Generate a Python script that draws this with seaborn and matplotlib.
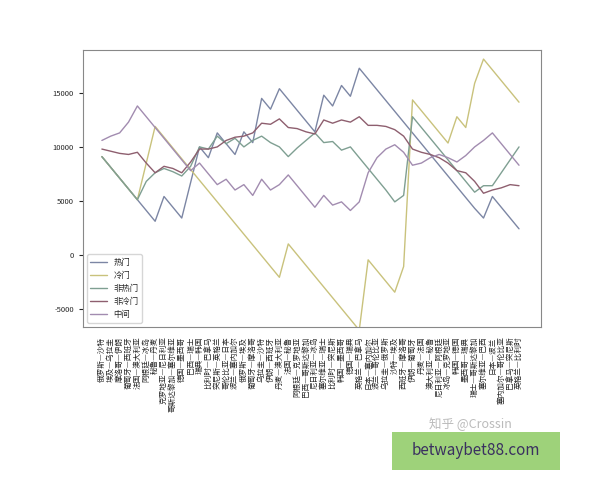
import matplotlib
matplotlib.use("Agg")
import matplotlib.pyplot as plt
import seaborn as sns
import pandas as pd

sns.set_style("white")
plt.rcParams['font.family'] = ['Noto Sans CJK SC', 'DejaVu Sans']
plt.rcParams['axes.unicode_minus'] = False

matches = ["俄罗斯—沙特","埃及—乌拉圭","摩洛哥—伊朗","葡萄牙—西班牙","法国—澳大利亚","阿根廷—冰岛",
 "秘鲁—丹麦","克罗地亚—尼日利亚","哥斯达黎加—塞尔维亚","德国—墨西哥","巴西—瑞士","瑞典—韩国",
 "比利时—巴拿马","突尼斯—英格兰","哥伦比亚—日本","波兰—塞内加尔","俄罗斯—埃及","葡萄牙—摩洛哥",
 "乌拉圭—沙特","伊朗—西班牙","丹麦—澳大利亚","法国—秘鲁","阿根廷—克罗地亚","巴西—哥斯达黎加",
 "尼日利亚—冰岛","塞尔维亚—瑞士","比利时—突尼斯","韩国—墨西哥","德国—瑞典","英格兰—巴拿马",
 "日本—塞内加尔","波兰—哥伦比亚","乌拉圭—俄罗斯","沙特—埃及","西班牙—摩洛哥","伊朗—葡萄牙",
 "丹麦—法国","澳大利亚—秘鲁","尼日利亚—阿根廷","冰岛—克罗地亚","韩国—德国","墨西哥—瑞典",
 "瑞士—哥斯达黎加","塞尔维亚—巴西","日本—波兰","塞内加尔—哥伦比亚","巴拿马—突尼斯","英格兰—比利时"]

hot = [9100,8100,7100,6100,5100,4100,3100,5400,4400,3400,6700,10000,9000,11300,10300,9300,
       11400,10400,14500,13500,15400,14400,13400,12400,11400,14800,13800,15700,14700,17300,16300,15300,
       14300,13300,12300,11300,10300,9300,8300,7300,6300,5300,4300,3400,5400,4400,3400,2400]
cold = [9100,8100,7100,6100,5100,8500,11900,10900,9900,8900,7900,6900,5900,4900,3900,2900,
        1900,900,-100,-1100,-2100,1000,0,-1000,-2000,-3000,-4000,-5000,-6000,-7000,-480,-1480,
        -2480,-3480,-1100,14360,13360,12360,11360,10360,12800,11800,15900,18150,17150,16150,15150,14150]
nonhot = [9100,8100,7100,6100,5100,6800,7600,8000,7700,7300,8200,10000,9800,11000,10300,10800,
          10000,10600,11000,10400,10000,9100,9900,10600,11300,10400,10500,9700,10000,9000,8000,7000,
          6000,4900,5500,12800,11800,10800,9800,8800,7800,6800,5800,6400,6400,7600,8800,10000]
noncold = [9800,9600,9400,9300,9500,8500,7600,8200,8000,7600,8600,9800,9800,10000,10600,10900,
           11000,11300,12200,12100,12600,11800,11700,11400,11200,12500,12200,12500,12300,12800,12000,12000,
           11900,11600,11000,9800,9500,9300,9000,8500,7800,7600,6800,5700,6000,6200,6500,6400]
middle = [10600,11000,11300,12300,13800,12800,11800,10800,9800,8800,7800,8500,7500,6500,7000,6000,
          6500,5500,7000,6000,6500,7400,6400,5400,4400,5500,4600,4900,4100,4900,7600,9000,
          9800,10200,9500,8300,8500,9000,9300,9000,8600,9200,10000,10600,11300,10300,9300,8300]

names = ["热门","冷门","非热门","非冷门","中间"]
colors = ["#7c86a4","#c9c27c","#7f9f92","#8e5f6f","#a28cb0"]
df = pd.DataFrame({"x": list(range(len(matches)))})
for n, s in zip(names, [hot, cold, nonhot, noncold, middle]):
    df[n] = s
long = df.melt(id_vars="x", var_name="series", value_name="v")

fig = plt.figure(figsize=(6, 4.8), dpi=100)
ax = fig.add_axes([0.138, 0.319, 0.764, 0.577])
sns.lineplot(data=long, x="x", y="v", hue="series", hue_order=names, palette=colors,
             linewidth=1.0, ax=ax)
ax.set_xlim(-2.15, 49.5)
ax.set_ylim(-6700, 19000)
ax.set_xticks(range(len(matches)))
ax.set_xticklabels(matches, rotation=90, fontsize=5.5)
ax.set_yticks([-5000, 0, 5000, 10000, 15000])
ax.tick_params(axis='y', labelsize=5.5, left=True, length=3)
ax.set_xlabel(""); ax.set_ylabel("")
for sp in ax.spines.values():
    sp.set_color("#888888"); sp.set_linewidth(0.8)
leg = ax.legend(loc="lower left", fontsize=6, frameon=True)
for line in leg.get_lines():
    line.set_linewidth(1.0)
fig.text(0.715, 0.108, "知乎 @Crossin", fontsize=9, color="#bbbbbb")
fig.patches.append(plt.Rectangle((0.653, 0.02), 0.28, 0.081, transform=fig.transFigure,
                                 facecolor="#9ed27a", edgecolor="none"))
fig.text(0.793, 0.062, "betwaybet88.com", fontsize=11, color="#3a3060", ha="center", va="center")
fig.savefig("out.png", dpi=100)
